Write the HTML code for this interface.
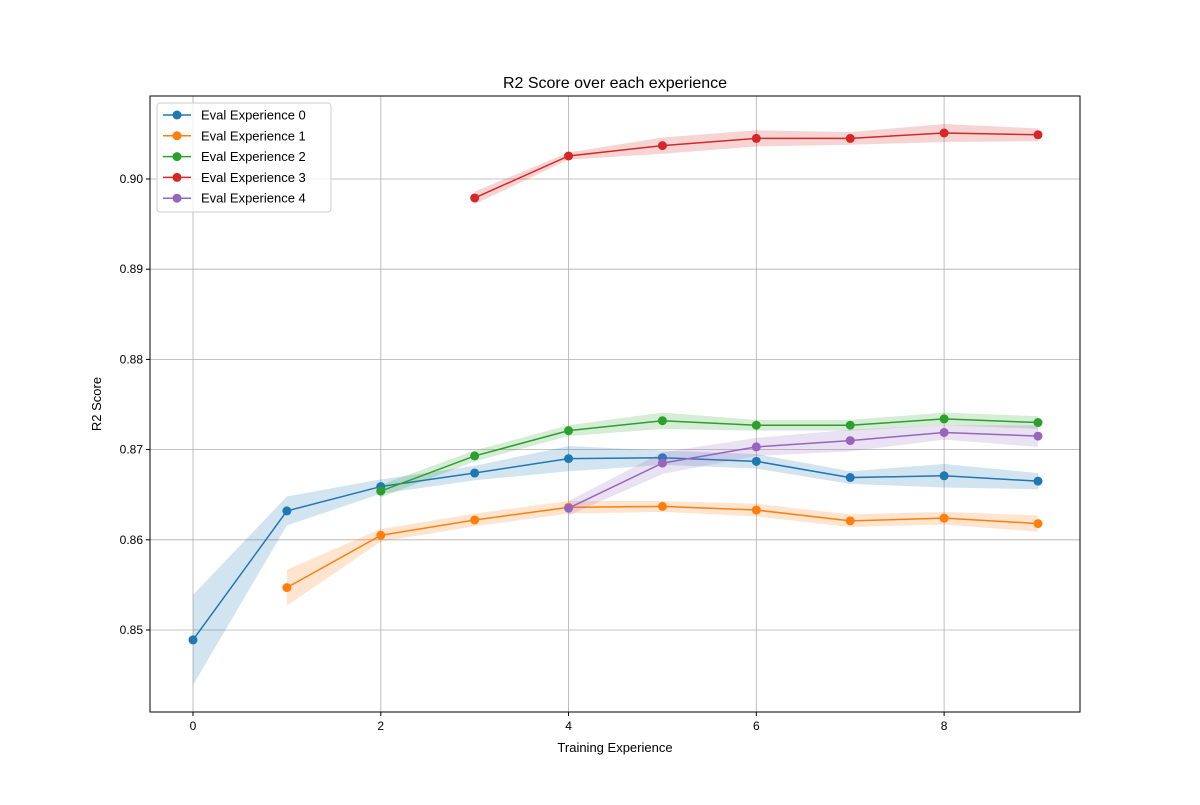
<!DOCTYPE html>
<html><head><meta charset="utf-8"><style>
body{margin:0;background:#fff;font-family:"Liberation Sans",sans-serif;}
svg text{font-family:"Liberation Sans",sans-serif;}
</style></head><body>
<svg id="chart" width="1200" height="800" xmlns="http://www.w3.org/2000/svg"></svg>
<script>
const xTicks=[0,2,4,6,8];
const yTicks=[0.85,0.86,0.87,0.88,0.89,0.90];
const seriesNames=["Eval Experience 0","Eval Experience 1","Eval Experience 2","Eval Experience 3","Eval Experience 4"];
const seriesStart=[0,1,2,3,4];
const exp0=[0.8489,0.8632,0.8659,0.8674,0.8690,0.8691,0.8687,0.8669,0.8671,0.8665];
const exp1=[0.8547,0.8605,0.8622,0.8636,0.8637,0.8633,0.8621,0.8624,0.8618];
const exp2=[0.8654,0.8693,0.8721,0.8732,0.8727,0.8727,0.8734,0.8730];
const exp3=[0.8979,0.90255,0.9037,0.9045,0.9045,0.9051,0.9049];
const exp4=[0.8635,0.8685,0.8703,0.8710,0.8719,0.8715];
const err0=[0.005,0.0016,0.0008,0.0008,0.0014,0.0008,0.0008,0.0007,0.0013,0.0009];
const err1=[0.002,0.0007,0.0007,0.0007,0.0006,0.0007,0.0007,0.0007,0.0009];
const err2=[0.0007,0.0006,0.0006,0.0009,0.0006,0.0006,0.0007,0.0007];
const err3=[0.0007,0.0004,0.0009,0.0009,0.0007,0.0010,0.0007];
const err4=[0.0008,0.0012,0.0010,0.0012,0.0008,0.0012];
const allVals=[exp0,exp1,exp2,exp3,exp4];
const allErr=[err0,err1,err2,err3,err4];
const colors=["#1f77b4","#ff7f0e","#2ca02c","#d62728","#9467bd"];
const L=150,R=1080,T=96,B=712;
const xs=v=>193+v*(1038-193)/9;
const ys=v=>630-(v-0.85)*(630-179)/0.05;
const NS="http://www.w3.org/2000/svg";
const svg=document.getElementById('chart');
function mk(tag,attrs,parent){const e=document.createElementNS(NS,tag);for(const k in attrs)e.setAttribute(k,attrs[k]);(parent||svg).appendChild(e);return e;}
// grid
xTicks.forEach(t=>{const g=mk('line',{x1:xs(t),x2:xs(t),y1:T,y2:B,stroke:'#b0b0b0','stroke-width':0.8});


const tk=mk('line',{x1:xs(t),x2:xs(t),y1:B,y2:B+4,stroke:'#000'});


const tx=mk('text',{x:xs(t),y:B+18,'text-anchor':'middle','font-size':12});tx.textContent=t;

});
yTicks.forEach(t=>{const g=mk('line',{x1:L,x2:R,y1:ys(t),y2:ys(t),stroke:'#b0b0b0','stroke-width':0.8});


const tk=mk('line',{x1:L-4,x2:L,y1:ys(t),y2:ys(t),stroke:'#000'});


const tx=mk('text',{x:L-7,y:ys(t)+4,'text-anchor':'end','font-size':12});tx.textContent=t.toFixed(2);

});
// series
allVals.forEach((vals,i)=>{
  const s=seriesStart[i],err=allErr[i];
  let up=vals.map((v,j)=>xs(s+j)+','+ys(v+err[j]));
  let dn=vals.map((v,j)=>xs(s+j)+','+ys(v-err[j])).reverse();
  const band=mk('polygon',{points:up.concat(dn).join(' '),fill:colors[i],'fill-opacity':0.2});
  
  
  const ln=mk('polyline',{points:vals.map((v,j)=>xs(s+j)+','+ys(v)).join(' '),fill:'none',stroke:colors[i],'stroke-width':1.5});
  
  
  vals.forEach((v,j)=>{const c=mk('circle',{cx:xs(s+j),cy:ys(v),r:4.5,fill:colors[i]});
  
  });
});
const fr=mk('rect',{x:L,y:T,width:R-L,height:B-T,fill:'none',stroke:'#000','stroke-width':1});


const ti=mk('text',{x:615,y:88,'text-anchor':'middle','font-size':16});ti.textContent='R2 Score over each experience';


const xl=mk('text',{x:615,y:752,'text-anchor':'middle','font-size':13});xl.textContent='Training Experience';


const yl=mk('text',{x:101,y:404,'text-anchor':'middle','font-size':13,transform:'rotate(-90 101 404)'});yl.textContent='R2 Score';


// legend
const lg=mk('g',{});


mk('rect',{x:157,y:103,width:174,height:109,rx:3,fill:'#fff','fill-opacity':0.8,stroke:'#ccc'},lg);
seriesNames.forEach((n,i)=>{const y=115+i*20.8;
 const e=mk('g',{},lg);
 
 
 mk('line',{x1:163,x2:191,y1:y,y2:y,stroke:colors[i],'stroke-width':1.5},e);
 mk('circle',{cx:177,cy:y,r:4.5,fill:colors[i]},e);
 const t=mk('text',{x:201,y:y+4.5,'font-size':13},e);t.textContent=n;});
</script>
</body></html>
